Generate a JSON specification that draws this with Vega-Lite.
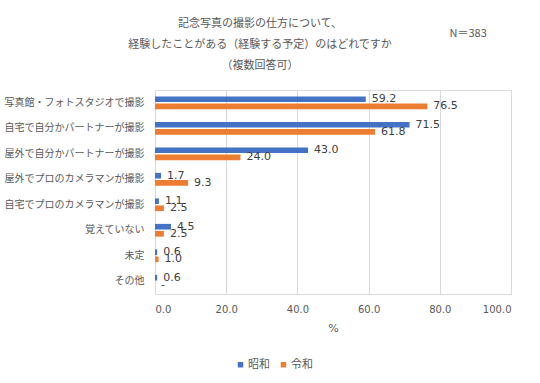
{
  "$schema": "https://vega.github.io/schema/vega-lite/v6.json",
  "width": 356,
  "height": 204,
  "autosize": {"type": "none"},
  "padding": {"left": 155, "top": 90, "right": 29, "bottom": 89},
  "background": "white",
  "title": {
    "text": ["記念写真の撮影の仕方について、", "経験したことがある（経験する予定）のはどれですか", "（複数回答可）"],
    "anchor": "middle",
    "frame": "group",
    "dx": -73,
    "offset": -44,
    "fontSize": 11,
    "fontWeight": "normal",
    "font": "Noto Sans CJK JP",
    "color": "#595959",
    "lineHeight": 21
  },
  "data": {
    "values": [
      {"cat": "写真館・フォトスタジオで撮影", "era": "昭和", "value": 59.2, "label": "59.2"},
      {"cat": "写真館・フォトスタジオで撮影", "era": "令和", "value": 76.5, "label": "76.5"},
      {"cat": "自宅で自分かパートナーが撮影", "era": "昭和", "value": 71.5, "label": "71.5"},
      {"cat": "自宅で自分かパートナーが撮影", "era": "令和", "value": 61.8, "label": "61.8"},
      {"cat": "屋外で自分かパートナーが撮影", "era": "昭和", "value": 43.0, "label": "43.0"},
      {"cat": "屋外で自分かパートナーが撮影", "era": "令和", "value": 24.0, "label": "24.0"},
      {"cat": "屋外でプロのカメラマンが撮影", "era": "昭和", "value": 1.7, "label": "1.7"},
      {"cat": "屋外でプロのカメラマンが撮影", "era": "令和", "value": 9.3, "label": "9.3"},
      {"cat": "自宅でプロのカメラマンが撮影", "era": "昭和", "value": 1.1, "label": "1.1"},
      {"cat": "自宅でプロのカメラマンが撮影", "era": "令和", "value": 2.5, "label": "2.5"},
      {"cat": "覚えていない", "era": "昭和", "value": 4.5, "label": "4.5"},
      {"cat": "覚えていない", "era": "令和", "value": 2.5, "label": "2.5"},
      {"cat": "未定", "era": "昭和", "value": 0.6, "label": "0.6"},
      {"cat": "未定", "era": "令和", "value": 1.0, "label": "1.0"},
      {"cat": "その他", "era": "昭和", "value": 0.6, "label": "0.6"},
      {"cat": "その他", "era": "令和", "value": 0, "label": "-"}
    ]
  },
  "encoding": {
    "y": {
      "field": "cat",
      "type": "nominal",
      "sort": ["写真館・フォトスタジオで撮影", "自宅で自分かパートナーが撮影", "屋外で自分かパートナーが撮影", "屋外でプロのカメラマンが撮影", "自宅でプロのカメラマンが撮影", "覚えていない", "未定", "その他"],
      "scale": {"paddingInner": 0.5, "paddingOuter": 0.25},
      "axis": {
        "domain": false,
        "ticks": false,
        "tickSize": 0,
        "labelPadding": 11,
        "labelFont": "Noto Sans CJK JP",
        "labelFontSize": 10,
        "labelColor": "#595959",
        "labelLimit": 200,
        "title": "N＝383",
        "titleAngle": 0,
        "titleX": 294,
        "titleY": -57,
        "titleAlign": "left",
        "titleBaseline": "middle",
        "titleFont": "Noto Sans CJK JP",
        "titleFontSize": 11,
        "titleFontWeight": "normal",
        "titleColor": "#595959"
      }
    },
    "yOffset": {"field": "era", "type": "nominal", "sort": ["昭和", "令和"], "scale": {"paddingInner": 0.2}},
    "x": {
      "field": "value",
      "type": "quantitative",
      "scale": {"domain": [0, 100], "nice": false},
      "axis": {
        "values": [0, 20, 40, 60, 80, 100],
        "format": ".1f",
        "domain": false,
        "ticks": false,
        "tickSize": 0,
        "grid": true,
        "gridColor": "#d9d9d9",
        "gridWidth": 1,
        "labelPadding": 10,
        "labelFont": "DejaVu Sans",
        "labelFontSize": 10,
        "labelColor": "#595959",
        "title": "%",
        "titleFont": "DejaVu Sans",
        "titleFontSize": 11,
        "titleFontWeight": "normal",
        "titleColor": "#595959",
        "titlePadding": 8
      }
    }
  },
  "layer": [
    {
      "mark": {"type": "bar"},
      "encoding": {
        "color": {
          "field": "era",
          "type": "nominal",
          "scale": {"domain": ["昭和", "令和"], "range": ["#4472C4", "#ED7D31"]},
          "legend": {
            "orient": "none",
            "legendX": 80,
            "legendY": 269,
            "direction": "horizontal",
            "title": null,
            "symbolType": "square",
            "symbolSize": 30,
            "labelFont": "Noto Sans CJK JP",
            "labelFontSize": 11,
            "labelColor": "#595959",
            "labelOffset": 2,
            "columnPadding": 8
          }
        }
      }
    },
    {
      "mark": {"type": "text", "align": "left", "baseline": "middle", "dx": 6, "font": "DejaVu Sans", "fontSize": 11, "color": "#404040"},
      "encoding": {"text": {"field": "label"}}
    }
  ]
}
